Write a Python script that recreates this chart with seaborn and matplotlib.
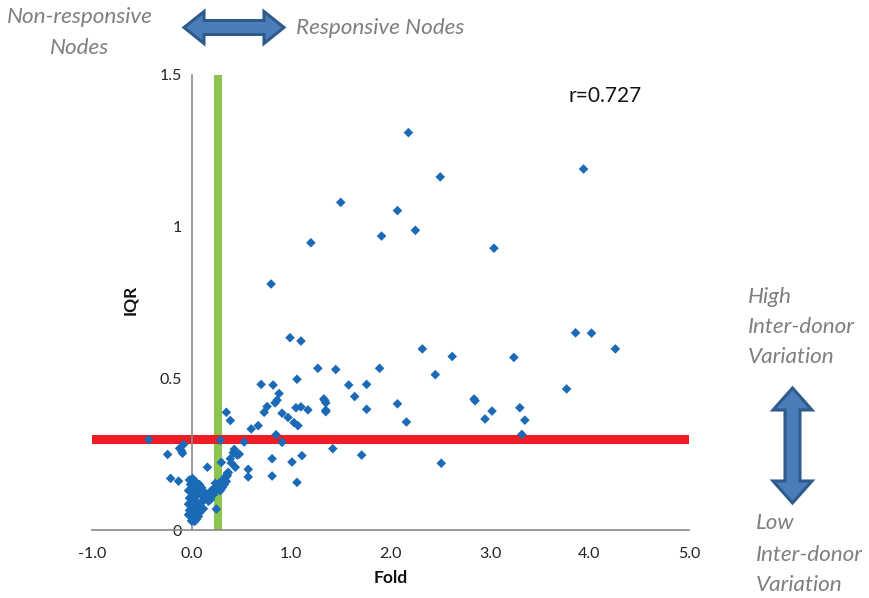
import matplotlib
matplotlib.use("Agg")
import matplotlib.pyplot as plt
import matplotlib.patches as mpatches
import seaborn as sns
import pandas as pd

# ---- data ----
fold_outer = [2.18, 3.94, 2.50, 1.50, 2.07, 2.25, 1.91, 1.20, 3.04, 0.80,
              0.99, 1.10, 3.86, 4.02, 4.26, 2.32, 2.62, 3.24,
              1.27, 1.45, 1.89, 1.06, 1.58, 1.76, 2.45, 3.77,
              0.88, 1.33, 1.64, 2.84, 0.70, 0.82,
              0.86, 0.84, 2.07, 0.76, 0.73, 1.05, 1.10, 1.17,
              1.34, 1.35, 1.35, 1.35, 1.76, 2.16, 0.35, 0.39,
              0.91, 0.97, 1.03, 1.07, 0.67, 0.60,
              -0.43, 0.29, 0.53, 0.85, 0.91, -0.08, -0.12, -0.10, -0.09, -0.24,
              1.42, 1.71, 1.11, 0.81, 1.01, 1.06, 0.81, 0.57, 0.57,
              0.44, 0.40, 0.43, 0.42, 0.46, 0.48, 0.39, 0.30, 0.16,
              -0.21, -0.13, 0.25, 0.24,
              2.85, 3.02, 2.95, 3.30, 3.35, 3.32, 2.51]
iqr_outer = [1.31, 1.19, 1.164, 1.08, 1.053, 0.988, 0.969, 0.947, 0.929, 0.811,
             0.634, 0.623, 0.650, 0.649, 0.597, 0.597, 0.572, 0.569,
             0.533, 0.529, 0.533, 0.497, 0.478, 0.480, 0.512, 0.465,
             0.450, 0.432, 0.440, 0.432, 0.480, 0.478,
             0.428, 0.419, 0.416, 0.407, 0.388, 0.403, 0.406, 0.396,
             0.427, 0.419, 0.395, 0.390, 0.398, 0.356, 0.388, 0.361,
             0.385, 0.371, 0.354, 0.344, 0.344, 0.333,
             0.298, 0.296, 0.290, 0.314, 0.289, 0.282, 0.269, 0.261, 0.253, 0.249,
             0.268, 0.247, 0.245, 0.235, 0.224, 0.157, 0.178, 0.200, 0.175,
             0.207, 0.221, 0.266, 0.255, 0.247, 0.250, 0.235, 0.223, 0.207,
             0.170, 0.161, 0.069, 0.154,
             0.426, 0.392, 0.366, 0.403, 0.362, 0.315, 0.220]

fold_cluster = [-0.02, 0.01, 0.04, -0.01, 0.02, 0.05, -0.03, 0.00, 0.03, 0.06,
                -0.02, 0.01, 0.04, -0.03, 0.00, 0.03, 0.06, -0.02, 0.01, 0.04,
                -0.01, 0.02, 0.05, 0.00, 0.03, 0.07, -0.03,
                0.08, 0.10, 0.12, 0.14, 0.16, 0.18, 0.20, 0.22, 0.24, 0.26,
                0.28, 0.30, 0.32, 0.34, 0.36, 0.37, 0.33, 0.29, 0.31, 0.35,
                0.07, 0.09, 0.11, 0.13, 0.15, 0.17, 0.10, 0.08, 0.12, 0.09,
                0.19, 0.21, 0.23, 0.35, 0.36, 0.33]
iqr_cluster = [0.165, 0.170, 0.160, 0.150, 0.145, 0.140, 0.130, 0.125, 0.120, 0.115,
               0.105, 0.100, 0.095, 0.085, 0.080, 0.075, 0.070, 0.065, 0.060, 0.055,
               0.045, 0.040, 0.035, 0.030, 0.028, 0.045, 0.050,
               0.080, 0.090, 0.100, 0.110, 0.115, 0.120, 0.130, 0.135, 0.140, 0.145,
               0.155, 0.160, 0.165, 0.175, 0.180, 0.190, 0.150, 0.130, 0.140, 0.160,
               0.130, 0.120, 0.115, 0.125, 0.105, 0.095, 0.140, 0.150, 0.070, 0.060,
               0.100, 0.115, 0.120, 0.176, 0.187, 0.168]

fold_threshold = 0.264
iqr_threshold = 0.30
r_text = "r=0.727"
x_ticks = [-1.0, 0.0, 1.0, 2.0, 3.0, 4.0, 5.0]
y_ticks = [0, 0.5, 1, 1.5]
y_tick_labels = ["0", "0.5", "1", "1.5"]

df = pd.DataFrame({"Fold": fold_outer + fold_cluster,
                   "IQR": iqr_outer + iqr_cluster})

# ---- figure ----
sns.set_style("white")
plt.rcParams["font.family"] = ["Lato", "DejaVu Sans"]

W, H = 869, 598
fig = plt.figure(figsize=(W / 100, H / 100), dpi=100)
ax = fig.add_axes([92 / W, 1 - 530 / H, (689 - 92) / W, (530 - 75) / H])

ax.axvline(fold_threshold, color="#8CC450", lw=5.8, zorder=1)
ax.axhline(iqr_threshold, color="#EE1C25", lw=6.5, zorder=1)

sns.scatterplot(data=df, x="Fold", y="IQR", marker="D", color="#1B6AB8",
                edgecolor="none", s=24, ax=ax, zorder=3, legend=False)

ax.set_xlim(-1, 5)
ax.set_ylim(0, 1.5)
ax.set_xticks(x_ticks)
ax.set_xticklabels([f"{v:.1f}" for v in x_ticks])
ax.set_yticks(y_ticks)
ax.set_yticklabels(y_tick_labels)

for s in ["top", "right"]:
    ax.spines[s].set_visible(False)
ax.spines["left"].set_position(("data", 0))
ax.spines["bottom"].set_position(("data", 0))
for s in ["left", "bottom"]:
    ax.spines[s].set_color("#8A8A8A")
    ax.spines[s].set_linewidth(1.2)
ax.tick_params(axis="both", direction="out", length=5, width=1.2,
               color="#8A8A8A", labelsize=11.5, labelcolor="#222222")
ax.tick_params(axis="x", pad=7)
ax.tick_params(axis="y", pad=2)

ax.set_xlabel("Fold", fontsize=12.5, fontweight="bold", color="#111111")
ax.xaxis.set_label_coords(0.5, -0.088)
ax.set_ylabel("IQR", fontsize=12.5, fontweight="bold", color="#111111")
ax.yaxis.set_label_coords(0.078, 0.505)

ax.text((605 - 92) / 597, (530 - 96) / 455, r_text, transform=ax.transAxes,
        ha="center", va="center", fontsize=15, color="#111111")

# ---- annotations (figure pixel coordinates) ----
def fx(px):
    return px / W

def fy(py):
    return 1 - py / H

gray = "#7F7F7F"
def note(px, py, s, ha="left"):
    fig.text(fx(px), fy(py), s, ha=ha, va="center", fontsize=16.2,
             style="italic", color=gray)

note(80, 17, "Non-responsive", ha="center")
note(80, 48, "Nodes", ha="center")
note(296, 28, "Responsive Nodes")
note(748, 297, "High")
note(748, 327, "Inter-donor")
note(748, 357, "Variation")
note(756, 523, "Low")
note(756, 555, "Inter-donor")
note(756, 585, "Variation")

# horizontal double arrow
cy, hh, sh, x0, x1, hl = 27.5, 16, 7, 184, 284, 20
pts_h = [(x0, cy), (x0 + hl, cy - hh), (x0 + hl, cy - sh), (x1 - hl, cy - sh),
         (x1 - hl, cy - hh), (x1, cy), (x1 - hl, cy + hh), (x1 - hl, cy + sh),
         (x0 + hl, cy + sh), (x0 + hl, cy + hh)]
# vertical double arrow
cx, hw, sw, y0, y1, vl = 792.5, 19.5, 7.5, 388, 503, 22
pts_v = [(cx, y0), (cx + hw, y0 + vl), (cx + sw, y0 + vl), (cx + sw, y1 - vl),
         (cx + hw, y1 - vl), (cx, y1), (cx - hw, y1 - vl), (cx - sw, y1 - vl),
         (cx - sw, y0 + vl), (cx - hw, y0 + vl)]
for pts in (pts_h, pts_v):
    poly = mpatches.Polygon([(fx(a), fy(b)) for a, b in pts], closed=True,
                            transform=fig.transFigure, facecolor="#4A7DBA",
                            edgecolor="#2F5A8C", lw=2.2, joinstyle="miter")
    fig.patches.append(poly)

fig.savefig("out.png", dpi=100)
